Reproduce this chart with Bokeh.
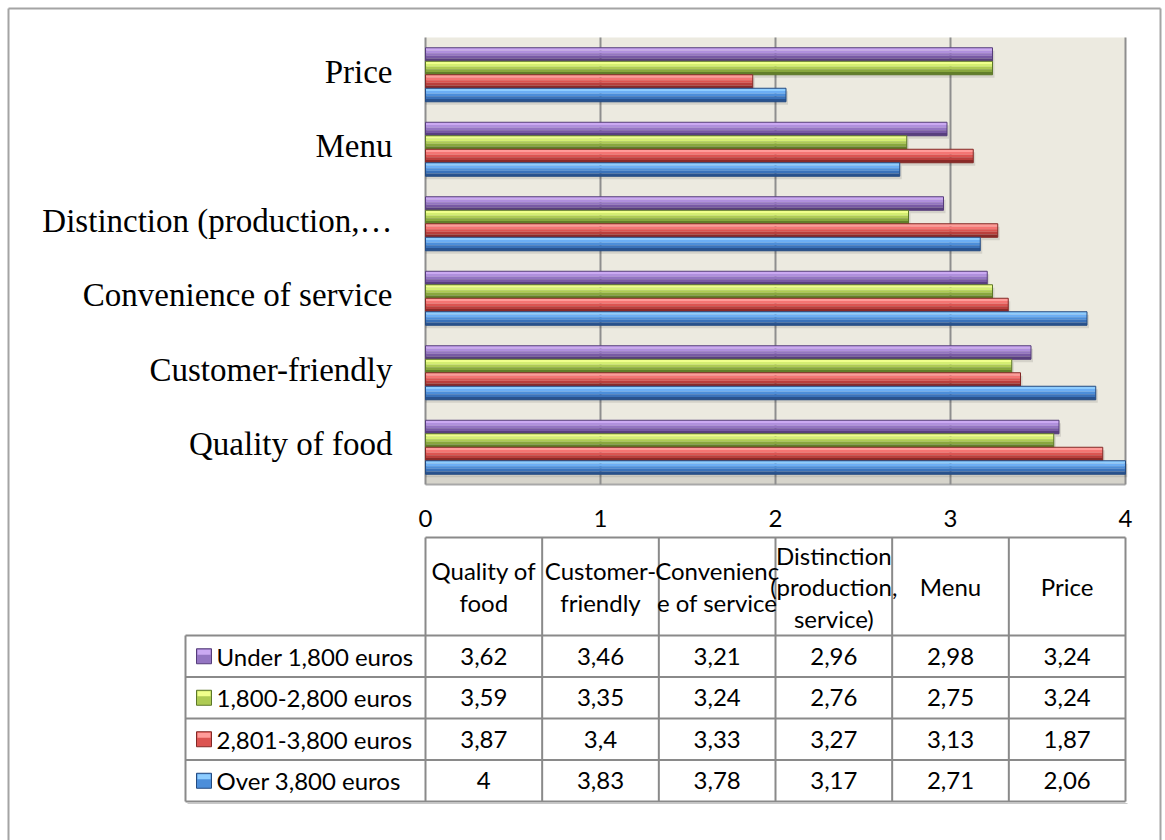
from bokeh.plotting import figure
from bokeh.models import Range1d
from bokeh.embed import file_html
from bokeh.resources import INLINE
from bokeh.core.properties import value

# ---- data -------------------------------------------------------------
categories = ["Quality of food", "Customer-friendly", "Convenience of service",
              "Distinction (production, service)", "Menu", "Price"]
series_names = ["Under 1,800 euros", "1,800-2,800 euros",
                "2,801-3,800 euros", "Over 3,800 euros"]
under_1800 = [3.62, 3.46, 3.21, 2.96, 2.98, 3.24]
from_1800_to_2800 = [3.59, 3.35, 3.24, 2.76, 2.75, 3.24]
from_2801_to_3800 = [3.87, 3.40, 3.33, 3.27, 3.13, 1.87]
over_3800 = [4.00, 3.83, 3.78, 3.17, 2.71, 2.06]
x_ticks = [0, 1, 2, 3, 4]
header_lines = [["Quality of", "food"], ["Customer-", "friendly"],
                ["Convenienc", "e of service"],
                ["Distinction", "(production,", "service)"],
                ["Menu"], ["Price"]]

series_values = [under_1800, from_1800_to_2800, from_2801_to_3800, over_3800]

# bevelled bar shading, top strip to bottom strip, plus the edge colour
shades = [
    ["#CBA9F2", "#B090DD", "#9475C2", "#785AA4", "#583F7E"],
    ["#F0FF8C", "#D4EE72", "#AECB54", "#88A73E", "#627E2A"],
    ["#FF9C99", "#F47573", "#DC5451", "#BA3F3C", "#8A2A28"],
    ["#8ECDFF", "#6CAEF4", "#4C8EDA", "#3A72BA", "#29538F"],
]
edges = ["#553C7A", "#5C7728", "#822826", "#234A80"]

# ---- layout -----------------------------------------------------------
W, H = 1165, 840
PLOT_L, PLOT_R, PLOT_T, PLOT_B = 425, 1125, 37, 484
X_MAX = 4
PX = (PLOT_R - PLOT_L) / X_MAX          # pixels per value unit


def xd(px):
    """pixel column -> value units on the x scale"""
    return (px - PLOT_L) / PX


n_cat = len(categories)
band = (PLOT_B - PLOT_T) / n_cat
bar_h = 13.5
centers = [PLOT_T + band * (n_cat - 1 - i + 0.5) for i in range(n_cat)]

p = figure(width=W, height=H, output_backend="svg", toolbar_location=None,
           x_range=Range1d(xd(0), xd(W)), y_range=Range1d(H, 0),
           min_border=0, outline_line_color=None,
           background_fill_color="white", border_fill_color="white")
p.axis.visible = False
p.grid.visible = False

GRID = "#8E8E8E"

# plot area background and floor
p.quad(left=[0], right=[X_MAX], top=[PLOT_T], bottom=[PLOT_B],
       fill_color="#ECEAE0", line_color=None)
p.quad(left=[0], right=[X_MAX], top=[PLOT_B - 9], bottom=[PLOT_B],
       fill_color="#D6D4CB", line_color=None)
p.segment(x0=[0], y0=[PLOT_B], x1=[X_MAX], y1=[PLOT_B],
          line_color="#A8A8A8", line_width=2)

# vertical grid lines and the value axis line
p.segment(x0=x_ticks, y0=[PLOT_T] * len(x_ticks), x1=x_ticks,
          y1=[PLOT_B] * len(x_ticks), line_color=GRID, line_width=2)

# bars
n_ser = len(series_values)
strip_h = bar_h / len(shades[0])
for s, vals in enumerate(series_values):
    ys = [c + (s - (n_ser - 1) / 2) * bar_h for c in centers]
    p.hbar(y=[y + 3 for y in ys], left=0, right=[v + 2 / PX for v in vals],
           height=bar_h, fill_color="#000000", fill_alpha=0.10, line_color=None)
    for j, col in enumerate(shades[s]):
        p.hbar(y=[y - bar_h / 2 + (j + 0.5) * strip_h for y in ys], left=0,
               right=vals, height=strip_h, fill_color=col, line_color=None)
    p.hbar(y=ys, left=0, right=vals, height=bar_h, fill_color=None,
           line_color=edges[s], line_width=1)

# category labels
short = [c if len(c) <= 24 else c[:24] + "\u2026" for c in categories]
p.text(x=[xd(392)] * n_cat, y=[c - 3 for c in centers], text=short,
       text_font=value("Liberation Serif"), text_font_size="33px",
       text_align="right", text_baseline="middle", text_color="black")

SANS = value("Lato")
FS = "24px"

# tick labels
p.text(x=x_ticks, y=[518] * len(x_ticks), text=[str(t) for t in x_ticks],
       text_font=SANS, text_font_size=FS, text_align="center",
       text_baseline="middle", text_color="black")

# ---- data table -------------------------------------------------------
TBL_L = 185
HEAD_T, HEAD_B = 537, 635
row_edges = [635, 676.5, 718, 759.5, 801]
col_w = X_MAX / n_cat
col_edges = [i * col_w for i in range(n_cat + 1)]
TBL_LINE = "#8A8A8A"

p.segment(x0=[0], y0=[HEAD_T], x1=[X_MAX], y1=[HEAD_T],
          line_color=TBL_LINE, line_width=2)
p.segment(x0=[xd(TBL_L)] * len(row_edges), y0=row_edges,
          x1=[X_MAX] * len(row_edges), y1=row_edges,
          line_color=TBL_LINE, line_width=2)
p.segment(x0=col_edges, y0=[HEAD_T] * len(col_edges), x1=col_edges,
          y1=[row_edges[-1]] * len(col_edges), line_color=TBL_LINE, line_width=2)
p.segment(x0=[xd(TBL_L)], y0=[row_edges[0]], x1=[xd(TBL_L)],
          y1=[row_edges[-1]], line_color=TBL_LINE, line_width=2)
p.segment(x0=[xd(TBL_L + 2)], y0=[row_edges[-1] + 2], x1=[X_MAX + 2 / PX],
          y1=[row_edges[-1] + 2], line_color="#C8C8C8", line_width=1)

# header texts (drawn in the order of the columns: bottom category first)
head_mid = (HEAD_T + HEAD_B) / 2
LINE_STEP = 31.5
hx, hy, ht = [], [], []
for i, lines in enumerate(header_lines):
    cx = (col_edges[i] + col_edges[i + 1]) / 2
    for k, t in enumerate(lines):
        hx.append(cx)
        hy.append(head_mid + (k - (len(lines) - 1) / 2) * LINE_STEP)
        ht.append(t)
p.text(x=hx, y=hy, text=ht, text_font=SANS, text_font_size=FS,
       text_align="center", text_baseline="middle", text_color="black")

# table rows: legend key, series name, values
row_mid = [(row_edges[r] + row_edges[r + 1]) / 2 for r in range(n_ser)]
for r, (name, vals) in enumerate(zip(series_names, series_values)):
    ym = row_mid[r]
    p.rect(x=[xd(203.5)], y=[ym], width=15 / PX, height=15,
           fill_color=shades[r][2], line_color=edges[r], line_width=1)
    p.rect(x=[xd(203.5)], y=[ym - 4], width=13 / PX, height=5,
           fill_color=shades[r][0], line_color=None)
    p.text(x=[xd(216)], y=[ym], text=[name], text_font=SANS,
           text_font_size=FS, text_align="left", text_baseline="middle",
           text_color="black")
    cx = [(col_edges[i] + col_edges[i + 1]) / 2 for i in range(n_cat)]
    p.text(x=cx, y=[ym] * n_cat, text=[f"{v:g}".replace(".", ",") for v in vals],
           text_font=SANS, text_font_size=FS, text_align="center",
           text_baseline="middle", text_color="black")

# outer frame
FR = "#A4A4A4"
p.segment(x0=[xd(8), xd(8), xd(1160)], y0=[8, 8, 8],
          x1=[xd(1160), xd(8), xd(1160)], y1=[8, H, H],
          line_color=FR, line_width=2)

open("out.html", "w").write(file_html(p, INLINE))
